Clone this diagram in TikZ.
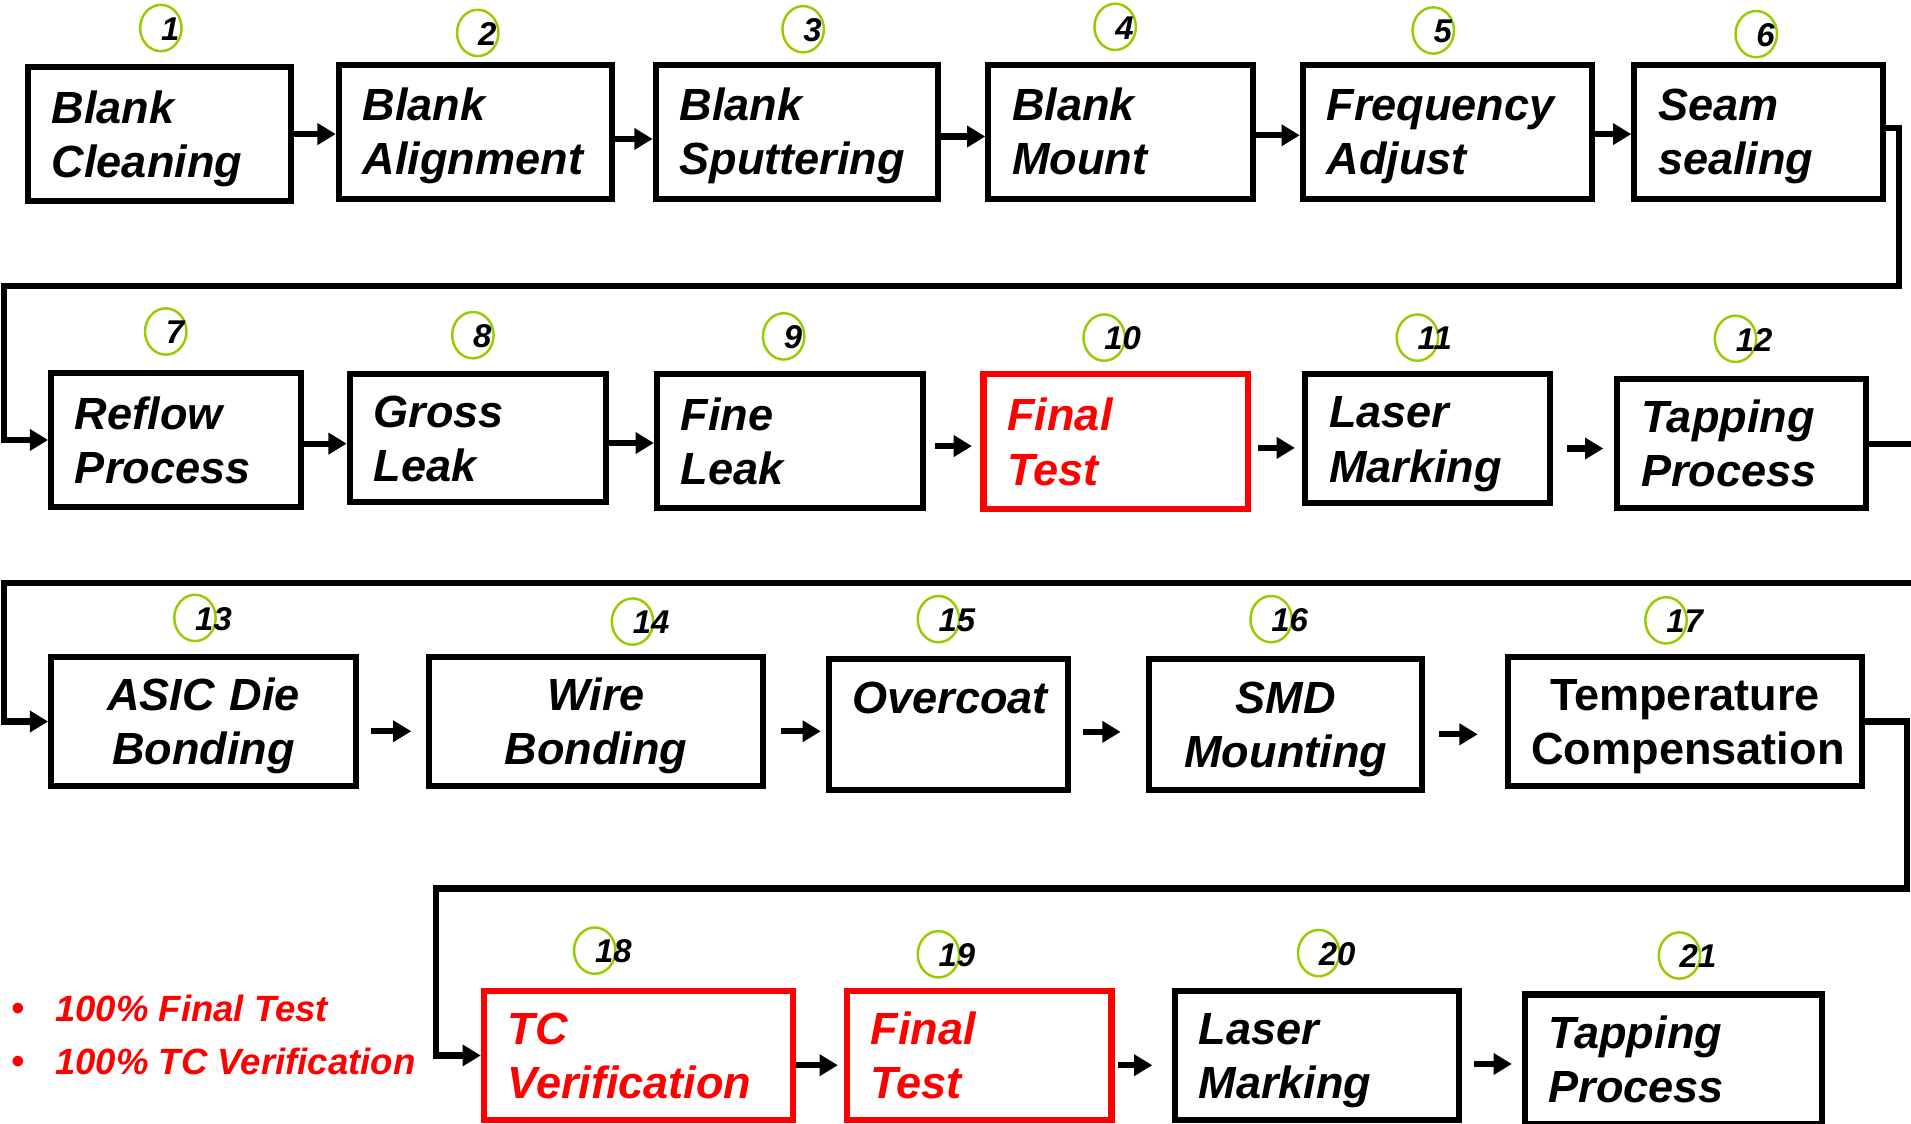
\documentclass[tikz,border=0pt]{standalone}
\usepackage{fontspec}
\setmainfont{Liberation Sans}
\usetikzlibrary{arrows.meta,calc,shapes.geometric}
\definecolor{cgreen}{RGB}{153,204,0}
\definecolor{cred}{RGB}{255,0,0}
\begin{document}
\begin{tikzpicture}[x=1pt,y=-1pt,
  box/.style={draw,line width=5pt,rectangle,inner xsep=19.5pt,inner ysep=0pt,align=left,
    text height=30pt,text depth=48pt,
    font=\fontsize{37}{44.5}\selectfont\bfseries\itshape},
  cbox/.style={box,align=center},
  redbox/.style={box,draw=cred,text=cred},
  circ/.style={draw=cgreen,line width=2pt,ellipse,minimum width=34pt,minimum height=38pt,inner sep=0pt},
  num/.style={font=\fontsize{27}{27}\selectfont\bfseries\itshape,inner sep=0pt,anchor=base west},
  arr/.style={line width=5pt,-{Triangle[length=15pt,width=17pt]}},
  bul/.style={text=cred,inner sep=0pt,anchor=base west,font=\fontsize{30}{30}\selectfont\bfseries\itshape},
]
\useasboundingbox (0,0) rectangle (1568,922);
\fill[white] (0,0) rectangle (1568,922);

% Row 1
\node[box,text width=177pt,minimum height=110pt] (b1) at (131,110) {Blank\\Cleaning};
\node[box,text width=185pt,minimum height=110pt] (b2) at (390,108) {Blank\\Alignment};
\node[box,text width=193pt,minimum height=110pt] (b3) at (654,108) {Blank\\Sputtering};
\node[box,text width=178pt,minimum height=110pt] (b4) at (919.5,108) {Blank\\Mount};
\node[box,text width=198pt,minimum height=110pt] (b5) at (1187.5,108) {Frequency\\Adjust};
\node[box,text width=165pt,minimum height=110pt] (b6) at (1443,108) {Seam\\sealing};

% Row 2
\node[box,text width=166pt,minimum height=110pt] (b7) at (144.5,361) {Reflow\\Process};
\node[box,text width=171pt,minimum height=105pt] (b8) at (392,359.5) {Gross\\Leak};
\node[box,text width=179pt,minimum height=110pt] (b9) at (648,362) {Fine\\Leak};
\node[redbox,text width=178pt,minimum height=111pt] (b10) at (915.5,362.5) {Final\\Test};
\node[box,text width=162pt,minimum height=106pt] (b11) at (1171.5,360) {Laser\\Marking};
\node[box,text width=165pt,minimum height=106pt] (b12) at (1429,364) {Tapping\\Process};

% Row 3
\node[cbox,text width=211pt,minimum height=106pt] (b13) at (167,592) {ASIC Die\\Bonding};
\node[cbox,text width=235pt,minimum height=106pt] (b14) at (489,592) {Wire\\Bonding};
\node[cbox,text width=157pt,minimum height=107pt] (b15) at (778,594.5) {Overcoat};
\node[cbox,text width=185pt,minimum height=107pt] (b16) at (1055,594.5) {SMD\\Mounting};
\node[cbox,text width=252pt,minimum height=106pt,font=\fontsize{37}{44.5}\selectfont\bfseries] (b17) at (1382.5,592) {Temperature\\Compensation};

% Row 4
\node[redbox,text width=215pt,minimum height=106pt] (b18) at (524,866) {TC\\Verification};
\node[redbox,text width=178pt,minimum height=106pt] (b19) at (803.5,866) {Final\\Test};
\node[box,text width=194pt,minimum height=106pt] (b20) at (1080.5,866) {Laser\\Marking};
\node[box,text width=205pt,minimum height=106pt] (b21) at (1373,869) {Tapping\\Process};

% Circled numbers
\foreach \n/\cx/\cy in {1/132/23,2/392/27,3/659/24,4/915/22,5/1176/25,6/1441/28,
  7/136/272,8/388/275,9/643/276,10/906/277,11/1163/277,12/1424/278,
  13/160/507,14/519/510,15/770/508,16/1043/508,17/1367/509,
  18/488/780,19/770/783,20/1082/782,21/1378/784}{
  \node[circ] (c\n) at (\cx,\cy) {};
  \node[num] (m\n) at ($(c\n.center)+(0,10)$) {\n};
}

% Row arrows
\draw[arr] (b1.east) -- (b1.east -| b2.west);
\draw[arr] ($(b2.east)+(0,6)$) -- ($(b2.east -| b3.west)+(0,6)$);
\draw[arr] ($(b3.east)+(0,4)$) -- ($(b3.east -| b4.west)+(0,4)$);
\draw[arr] ($(b4.east)+(0,3)$) -- ($(b4.east -| b5.west)+(0,3)$);
\draw[arr] ($(b5.east)+(0,2)$) -- ($(b5.east -| b6.west)+(0,2)$);

\draw[arr] ($(b7.east)+(0,3)$) -- ($(b7.east -| b8.west)+(0,3)$);
\draw[arr] ($(b8.east)+(0,4)$) -- ($(b8.east -| b9.west)+(0,4)$);
\draw[arr,shorten <=8pt,shorten >=7pt] ($(b9.east)+(0,4)$) -- ($(b9.east -| b10.west)+(0,4)$);
\draw[arr,shorten <=6pt,shorten >=6pt] ($(b10.east)+(0,5)$) -- ($(b10.east -| b11.west)+(0,5)$);
\draw[arr,shorten <=11pt,shorten >=9pt] ($(b11.east)+(0,8)$) -- ($(b11.east -| b12.west)+(0,8)$);

\draw[arr,shorten <=10pt,shorten >=12pt] ($(b13.east)+(0,8)$) -- ($(b13.east -| b14.west)+(0,8)$);
\draw[arr,shorten <=12pt,shorten >=4pt] ($(b14.east)+(0,8)$) -- ($(b14.east -| b15.west)+(0,8)$);
\draw[arr,shorten <=10pt,shorten >=21pt] ($(b15.east)+(0,6)$) -- ($(b15.east -| b16.west)+(0,6)$);
\draw[arr,shorten <=11pt,shorten >=22pt] ($(b16.east)+(0,8)$) -- ($(b16.east -| b17.west)+(0,8)$);

\draw[arr,shorten >=5pt] ($(b18.east)+(0,8)$) -- ($(b18.east -| b19.west)+(0,8)$);
\draw[arr,shorten <=3pt,shorten >=16pt] ($(b19.east)+(0,8)$) -- ($(b19.east -| b20.west)+(0,8)$);
\draw[arr,shorten <=10pt,shorten >=8pt] ($(b20.east)+(0,7)$) -- ($(b20.east -| b21.west)+(0,7)$);

% Row-to-row connectors
\coordinate (t1) at (1558,235);
\coordinate (t2) at (3,235);
\draw[arr] ($(b6.east)+(0,-3)$) -| (t1) -- (t2) |- (b7.west);
\coordinate (t3) at (1575,478);
\coordinate (t4) at (3,478);
\draw[arr] (b12.east) -| (t3) -- (t4) |- (b13.west);
\coordinate (t5) at (1565,729);
\coordinate (t6) at (358,729);
\draw[arr] (b17.east) -| (t5) -- (t6) |- (b18.west);

% Bullets
\node[bul,font=\fontsize{32}{32}\selectfont] (d1) at (9,838) {•};
\node[bul] (l1) at (45,838) {100\% Final Test};
\node[bul,font=\fontsize{32}{32}\selectfont] (d2) at (9,882) {•};
\node[bul] (l2) at (45,882) {100\% TC Verification};
\end{tikzpicture}
\end{document}
